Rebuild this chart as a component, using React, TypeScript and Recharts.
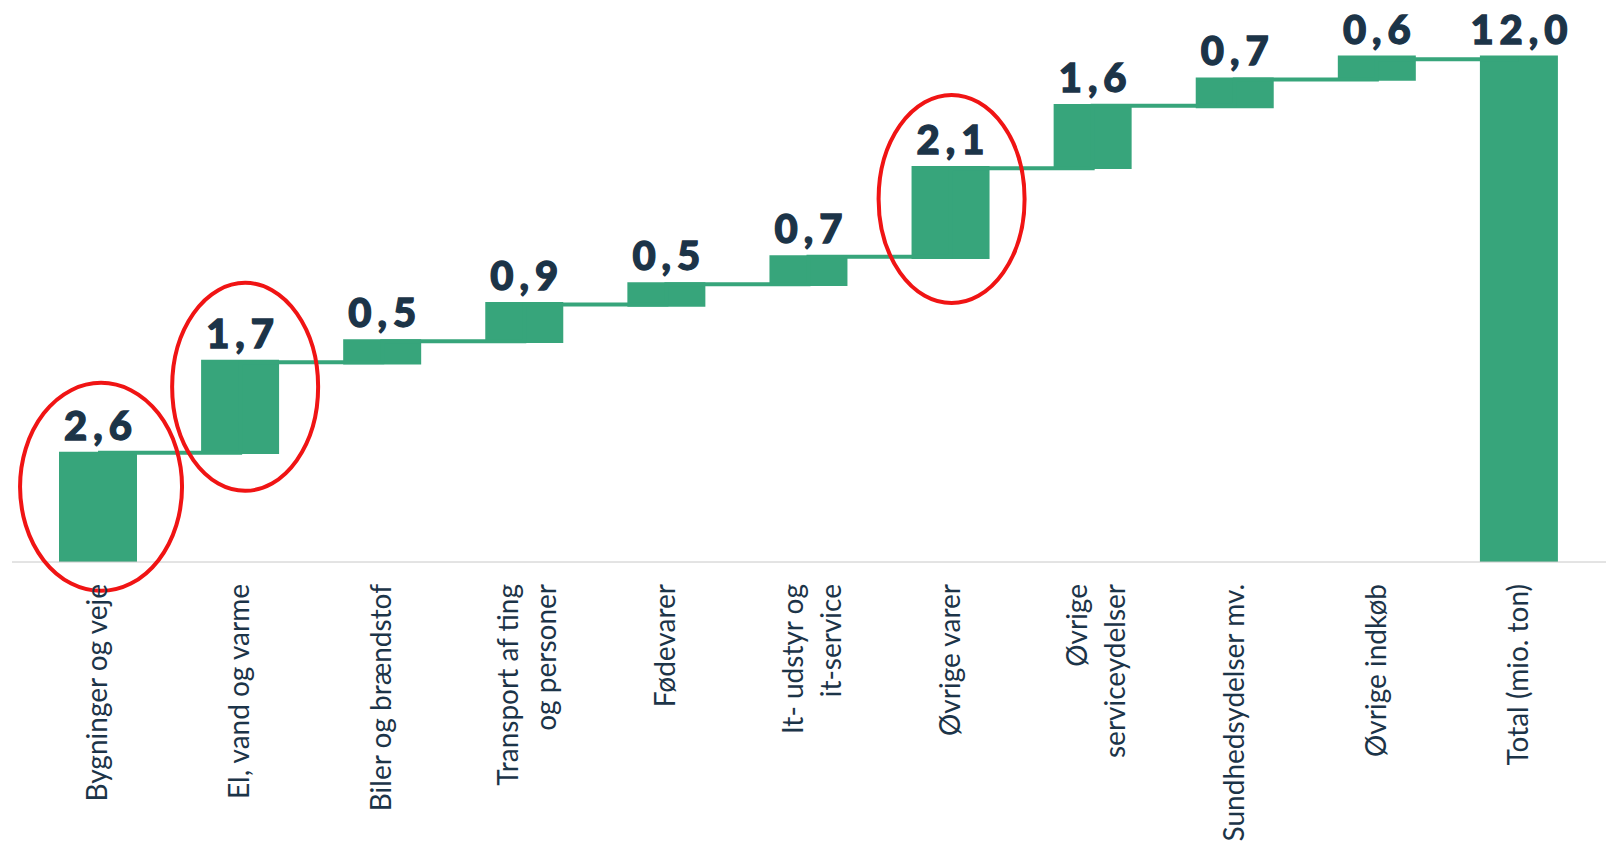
import { ComposedChart, Bar, Line, XAxis, YAxis, LabelList, ReferenceDot } from "recharts";

const categories = [
  "Bygninger og veje",
  "El, vand og varme",
  "Biler og brændstof",
  "Transport af ting\nog personer",
  "Fødevarer",
  "It- udstyr og\nit-service",
  "Øvrige varer",
  "Øvrige\nserviceydelser",
  "Sundhedsydelser mv.",
  "Øvrige indkøb",
  "Total (mio. ton)",
];

// printed labels
const valueLabels = ["2,6", "1,7", "0,5", "0,9", "0,5", "0,7", "2,1", "1,6", "0,7", "0,6", "12,0"];

// bar bottoms / tops as drawn (mio. ton)
const barLows = [0, 2.56, 4.68, 5.19, 6.05, 6.54, 7.18, 9.31, 10.75, 11.4, 0];
const barHighs = [2.61, 4.79, 5.28, 6.16, 6.63, 7.27, 9.38, 10.85, 11.48, 12.0, 12.0];

// level of the thin line joining one bar to the next
const connectorLevels = [2.59, 4.73, 5.23, 6.1, 6.58, 7.23, 9.33, 10.81, 11.43, 11.91, 11.91];

// red rings: category + centre level
const circledNames = [categories[0], categories[1], categories[6]];
const circledLevels = [1.78, 4.15, 8.6];

const GREEN = "#37a57b";
const NAVY = "#1c3448";
const RING_SIZE = [
  { rx: 81, ry: 104, dx: 3 },
  { rx: 73, ry: 104, dx: 5 },
  { rx: 73, ry: 104, dx: 1 },
];

const data = categories.map((name, i) => ({
  name,
  range: [barLows[i], barHighs[i]],
  conn: connectorLevels[i],
  label: valueLabels[i],
}));

function CategoryTick(props: any) {
  const { x, payload } = props;
  const lines = String(payload.value).split("\n");
  const spacing = 38;
  const first = 9 + 4 - ((lines.length - 1) * spacing) / 2;
  return (
    <g transform={`translate(${x},584)`}>
      <text
        transform="rotate(-90)"
        textAnchor="end"
        fill={NAVY}
        fontSize={28}
        fontFamily="Lato, sans-serif"
      >
        {lines.map((l, i) => (
          <tspan key={i} x={0} y={lines.length === 1 ? 9 : first + i * spacing}>
            {l}
          </tspan>
        ))}
      </text>
    </g>
  );
}

function ValueLabel(props: any) {
  const { x, y, width, value } = props;
  return (
    <text
      x={x + width / 2 + 3}
      y={y - 12}
      textAnchor="middle"
      fill={NAVY}
      stroke={NAVY}
      strokeWidth={1.3}
      fontSize={40}
      fontWeight={900}
      letterSpacing={6}
      fontFamily="Lato, sans-serif"
    >
      {value}
    </text>
  );
}

export default function App() {
  return (
    <div style={{ position: "absolute", left: 0, top: 0, background: "#fff" }}>
      <ComposedChart
        width={1606}
        height={847}
        data={data}
        margin={{ top: 55.5, right: 0, bottom: 0, left: 12 }}
      >
        <XAxis
          dataKey="name"
          type="category"
          interval={0}
          height={285}
          padding={{ left: 15, right: 16 }}
          axisLine={{ stroke: "#c8c8c8", strokeWidth: 1 }}
          tickLine={false}
          tick={<CategoryTick />}
        />
        <YAxis hide width={0} domain={[0, 12]} />
        <Bar dataKey="range" fill={GREEN} barSize={78} isAnimationActive={false}>
          <LabelList dataKey="label" content={<ValueLabel />} />
        </Bar>
        <Line
          type="stepAfter"
          dataKey="conn"
          stroke={GREEN}
          strokeWidth={4}
          dot={false}
          activeDot={false}
          isAnimationActive={false}
        />
        {circledNames.map((name, i) => (
          <ReferenceDot
            key={name}
            x={name}
            y={circledLevels[i]}
            r={1}
            shape={(p: any) => (
              <ellipse
                cx={p.cx + RING_SIZE[i].dx}
                cy={p.cy}
                rx={RING_SIZE[i].rx}
                ry={RING_SIZE[i].ry}
                fill="none"
                stroke="#f01414"
                strokeWidth={4}
              />
            )}
          />
        ))}
      </ComposedChart>
    </div>
  );
}
